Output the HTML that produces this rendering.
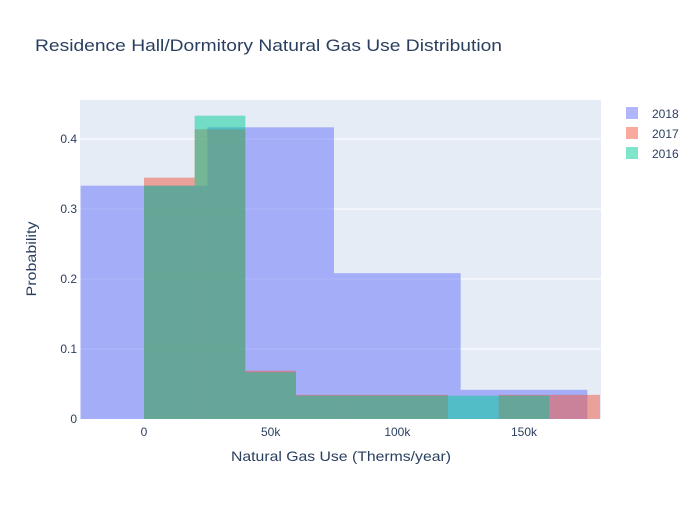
<!DOCTYPE html>
<html><head><meta charset="utf-8"><style>
body{margin:0;background:#fff;font-family:"Liberation Sans",sans-serif}
</style></head><body>
<svg id="chart" width="700" height="500" xmlns="http://www.w3.org/2000/svg">
<rect width="700" height="500" fill="#fff"/>
<rect x="80" y="100" width="521" height="319" fill="#e5ecf6"/>
<g id="grid"></g>
<g id="bars"></g>
<g id="ticks" font-size="12" fill="#2a3f5f"></g>
<text x="35" y="51" font-size="17" fill="#2a3f5f" textLength="467" lengthAdjust="spacingAndGlyphs">Residence Hall/Dormitory Natural Gas Use Distribution</text>
<text x="341" y="461" font-size="14" fill="#2a3f5f" text-anchor="middle" textLength="220" lengthAdjust="spacingAndGlyphs">Natural Gas Use (Therms/year)</text>
<text x="36" y="259" font-size="14" fill="#2a3f5f" text-anchor="middle" textLength="75" lengthAdjust="spacingAndGlyphs" transform="rotate(-90 36 259)">Probability</text>
<g id="legend" font-size="12" fill="#2a3f5f"></g>
</svg>
<script>
const seriesNames=["2018","2017","2016"];
const seriesColors=["rgb(99,110,250)","rgb(239,85,59)","rgb(0,204,150)"];
const binStarts2018=[-25000,25000,75000,125000];
const binWidth2018=50000;
const probs2018=[0.3333,0.4167,0.2083,0.0417];
const binStarts2017=[0,20000,40000,60000,80000,100000,140000,160000];
const probs2017=[0.3448,0.4138,0.0690,0.0345,0.0345,0.0345,0.0345,0.0345];
const binStarts2016=[0,20000,40000,60000,80000,100000,120000,140000];
const probs2016=[0.3333,0.4333,0.0667,0.0333,0.0333,0.0333,0.0333,0.0333];
const binWidthSmall=20000;
const yTicks=[0,0.1,0.2,0.3,0.4];
const yTickLabels=["0","0.1","0.2","0.3","0.4"];
const xTicks=[0,50000,100000,150000];
const xTickLabels=["0","50k","100k","150k"];
const NS="http://www.w3.org/2000/svg";
const xS=v=>144+v*(380/150000);
const yS=p=>419-700*p;
function mk(tag,attrs,parent){const e=document.createElementNS(NS,tag);for(const k in attrs)e.setAttribute(k,attrs[k]);parent.appendChild(e);return e;}
const grid=document.getElementById('grid'),bars=document.getElementById('bars'),ticks=document.getElementById('ticks'),legend=document.getElementById('legend');
yTicks.forEach((t,i)=>{
 if(t>0){const l=mk('line',{x1:80,x2:601,y1:yS(t),y2:yS(t),stroke:'#fff','stroke-width':1},grid);
 
 }
 const tx=mk('text',{x:77,y:yS(t)+4,'text-anchor':'end'},ticks);tx.textContent=yTickLabels[i];
 
 
});
xTicks.forEach((t,i)=>{
 const tx=mk('text',{x:xS(t),y:436,'text-anchor':'middle'},ticks);tx.textContent=xTickLabels[i];
 
 
});
function drawSeries(starts,w,probs,color,name){
 starts.forEach((s,i)=>{
  const x0=Math.max(80,xS(s)),x1=Math.min(601,xS(s+w));
  const r=mk('rect',{x:x0,y:yS(probs[i]),width:x1-x0,height:419-yS(probs[i]),fill:color,'fill-opacity':0.5},bars);
  
  
 });
}
drawSeries(binStarts2018,binWidth2018,probs2018,seriesColors[0],'2018');
drawSeries(binStarts2017,binWidthSmall,probs2017,seriesColors[1],'2017');
drawSeries(binStarts2016,binWidthSmall,probs2016,seriesColors[2],'2016');
seriesNames.forEach((n,i)=>{
 const g=mk('g',{},legend);
 
 
 mk('rect',{x:626,y:107+i*20,width:12,height:12,fill:seriesColors[i],'fill-opacity':0.5},g);
 const t=mk('text',{x:652,y:118+i*20},g);t.textContent=n;
});
</script>
</body></html>
